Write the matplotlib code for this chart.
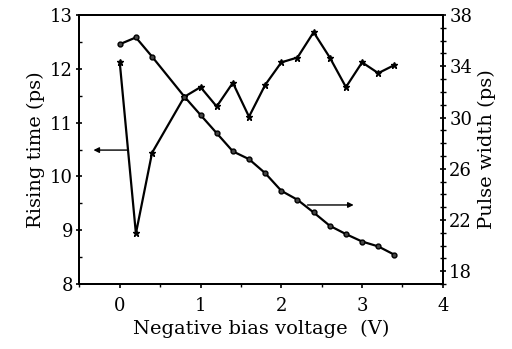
import matplotlib
matplotlib.use("Agg")
from matplotlib import pyplot as plt
from matplotlib.ticker import MultipleLocator

# bias voltage (V)
voltage = [0, 0.2, 0.4, 0.8, 1.0, 1.2, 1.4, 1.6, 1.8, 2.0, 2.2, 2.4, 2.6, 2.8, 3.0, 3.2, 3.4]
# rising time (ps), left axis, star markers
rising = [12.12, 8.94, 10.44, 11.48, 11.66, 11.30, 11.74, 11.11, 11.70, 12.12,
          12.21, 12.68, 12.21, 11.66, 12.12, 11.92, 12.07]
# pulse width (ps), right axis, circle markers
pulse = [35.72, 36.25, 34.75, 31.63, 30.20, 28.78, 27.36, 26.75, 25.66, 24.28,
         23.58, 22.59, 21.55, 20.90, 20.32, 19.94, 19.29]

plt.rcParams['font.family'] = ['DejaVu Serif']
plt.rcParams['font.size'] = 13

fig = plt.figure(figsize=(5.12, 3.49), dpi=100)
ax = fig.add_axes([0.155, 0.186, 0.71, 0.771])
ax2 = ax.twinx()

ax.plot(voltage, rising, color='black', lw=1.6, marker='*', ms=5, zorder=3)
ax2.plot(voltage, pulse, color='black', lw=1.6, marker='o', ms=3.5,
         mfc='#444444', mec='black', zorder=3)

ax.set_xlim(-0.5, 4)
ax.set_ylim(8, 13)
ax2.set_ylim(17, 38)

ax.xaxis.set_major_locator(MultipleLocator(1))
ax.xaxis.set_minor_locator(MultipleLocator(0.5))
ax.yaxis.set_major_locator(MultipleLocator(1))
ax.yaxis.set_minor_locator(MultipleLocator(0.5))
ax2.yaxis.set_major_locator(MultipleLocator(4))
ax2.yaxis.set_minor_locator(MultipleLocator(1))
ax2.set_yticks([18, 22, 26, 30, 34, 38])

ax.tick_params(axis='x', which='major', direction='out', length=3, width=1.2, pad=6)
ax.tick_params(axis='x', which='minor', direction='out', length=2, width=1)
ax.tick_params(axis='y', which='major', direction='inout', length=5, width=1.2, pad=2)
ax.tick_params(axis='y', which='minor', direction='in', length=2, width=1)
ax2.tick_params(axis='y', which='major', direction='inout', length=5, width=1.2, pad=2)
ax2.tick_params(axis='y', which='minor', direction='inout', length=4, width=1)

for a in (ax, ax2):
    for s in a.spines.values():
        s.set_linewidth(1.4)

ax.set_xlabel('Negative bias voltage  (V)', fontsize=14, labelpad=4)
ax.set_ylabel('Rising time (ps)', fontsize=14, labelpad=4)
ax2.set_ylabel('Pulse width (ps)', fontsize=14, labelpad=4)

# arrows pointing to each curve's axis
ax.annotate('', xy=(-0.36, 10.49), xytext=(0.13, 10.49),
            arrowprops=dict(arrowstyle='-|>', color='black', lw=1, mutation_scale=8))
ax.annotate('', xy=(2.93, 9.47), xytext=(2.29, 9.47),
            arrowprops=dict(arrowstyle='-|>', color='black', lw=1, mutation_scale=8))

fig.savefig('out.png', dpi=100)
